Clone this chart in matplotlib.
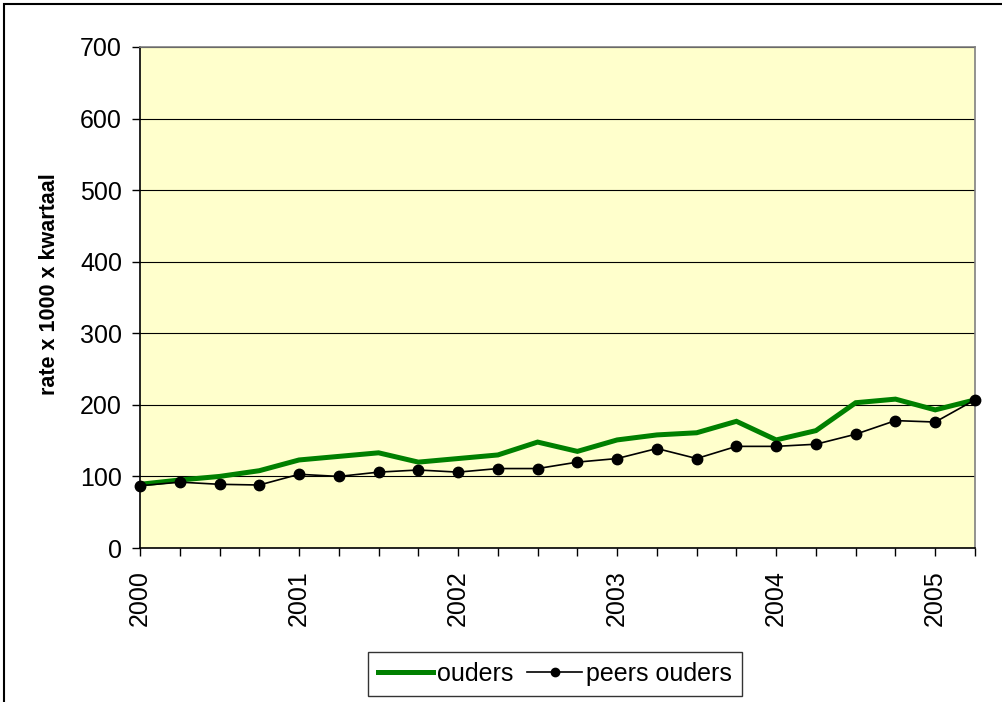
import matplotlib
matplotlib.use("Agg")
import matplotlib.pyplot as plt
from matplotlib.patches import Rectangle

plt.rcParams['font.family'] = ['Liberation Sans', 'DejaVu Sans']

quarters = [2000 + i / 4 for i in range(22)]
ouders = [89, 95, 100, 108, 123, 128, 133, 120, 125, 130, 148, 135,
          151, 158, 161, 177, 151, 164, 203, 208, 193, 207]
peers_ouders = [87, 92, 89, 88, 103, 100, 106, 109, 106, 111, 111, 120,
                125, 139, 125, 142, 142, 145, 159, 178, 176, 207]
year_ticks = [2000, 2001, 2002, 2003, 2004, 2005]
year_labels = ['2000', '2001', '2002', '2003', '2004', '2005']
y_ticks = [0, 100, 200, 300, 400, 500, 600, 700]

fig = plt.figure(figsize=(10.02, 7.02), dpi=100)
ax = fig.add_axes([140 / 1002, 1 - 548 / 702, 835 / 1002, 501 / 702])
ax.set_facecolor('#FFFFCC')

ax.plot(quarters, ouders, color='#008000', lw=3.6, label='ouders',
        solid_joinstyle='miter', zorder=3)
ax.plot(quarters, peers_ouders, color='black', lw=1.2, marker='o',
        markersize=7.5, label='peers ouders', zorder=4, clip_on=False)

ax.set_xlim(2000, 2005.25)
ax.set_ylim(0, 700)
ax.set_yticks(y_ticks)
ax.set_yticklabels([str(v) for v in y_ticks], fontsize=18)
ax.set_xticks(quarters, minor=True)
ax.set_xticks(year_ticks)
ax.set_xticklabels(year_labels, rotation=90, fontsize=18)
ax.tick_params(axis='x', which='both', direction='out', length=6, width=1,
               pad=10)
ax.tick_params(axis='y', direction='out', length=6, width=1, pad=7)
ax.yaxis.grid(True, color='black', lw=0.8)
ax.set_axisbelow(True)

for s in ['top', 'right']:
    ax.spines[s].set_color('#808080')
    ax.spines[s].set_linewidth(1.2)
for s in ['left', 'bottom']:
    ax.spines[s].set_color('black')
    ax.spines[s].set_linewidth(1.2)

ax.set_ylabel('rate x 1000 x kwartaal', fontsize=15.5, fontweight='bold')
ax.yaxis.set_label_coords(50 / 1002, 1 - 284 / 702, transform=fig.transFigure)
ax.yaxis.label.set_va('center')

leg = fig.legend(loc='center', bbox_to_anchor=(555 / 1002, 1 - 674 / 702),
                 ncol=2, fontsize=18, frameon=True, fancybox=False,
                 edgecolor='black', handlelength=2.2, handletextpad=0.15,
                 columnspacing=0.55, borderpad=0.4, markerscale=0.8)
leg.get_frame().set_linewidth(1.0)

fig.patches.append(Rectangle((4 / 1002, -0.1), 1.2, 1 - 4 / 702 + 0.1,
                             transform=fig.transFigure, fill=False,
                             edgecolor='black', lw=1.5))

fig.savefig('out.png', dpi=100)
